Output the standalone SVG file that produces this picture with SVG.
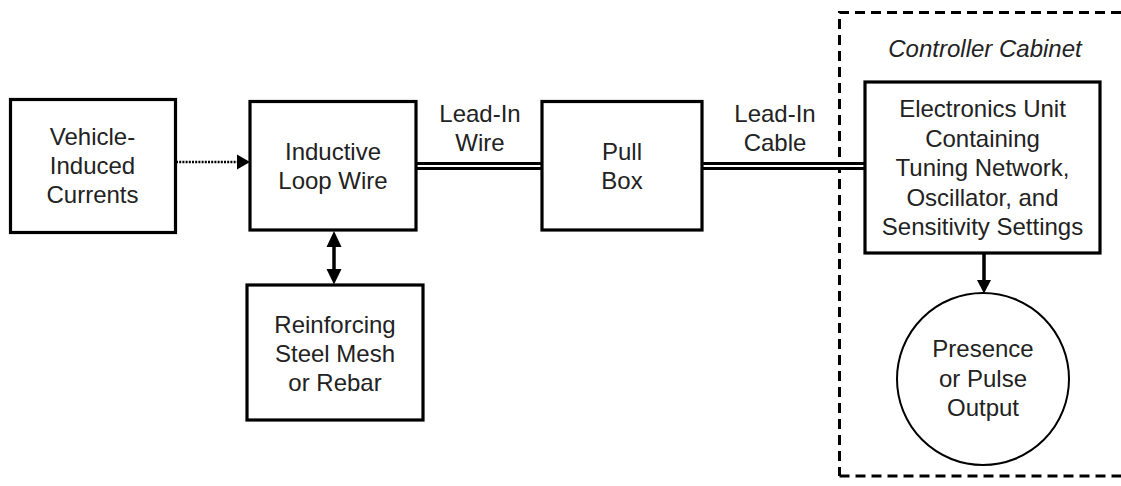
<svg xmlns="http://www.w3.org/2000/svg" width="1121" height="486" viewBox="0 0 1121 486">
<style>
  .box { fill: #fff; stroke: #000; stroke-width: 3.2; }
  .circ { fill: #fff; stroke: #000; stroke-width: 2; }
  text { font-family: "Liberation Sans", Arial, sans-serif; font-size: 24px; fill: #222; text-anchor: middle; }
  .it { font-style: italic; }
  .dbl-o { stroke: #000; stroke-width: 8; fill: none; }
  .dbl-i { stroke: #fff; stroke-width: 2; fill: none; }
  .solid { stroke: #000; stroke-width: 3.5; fill: none; }
  .dotted { stroke: #000; stroke-width: 2.5; stroke-dasharray: 2 1.2; fill: none; }
  .dash { stroke: #000; stroke-width: 3; stroke-dasharray: 10 6; fill: none; }
  .head { fill: #000; }
</style>
<rect width="1121" height="486" fill="#fff"/>

<g id="cabinet">
  <path class="dash" d="M1121 12.5 H839.5 V476"/>
  <path class="dash" d="M839.5 476 H1121"/>
  <text class="it" x="985" y="57">Controller Cabinet</text>
</g>

<g id="connectors">
  <line class="dotted" x1="176" y1="162" x2="238" y2="162"/>
  <polygon class="head" points="237,154.5 250,162 237,169.5"/>
  <line class="dbl-o" x1="416" y1="166" x2="542" y2="166"/>
  <line class="dbl-i" x1="414" y1="166" x2="544" y2="166"/>
  <line class="dbl-o" x1="702" y1="166" x2="865" y2="166"/>
  <line class="dbl-i" x1="700" y1="166" x2="867" y2="166"/>
  <line class="solid" x1="334" y1="245" x2="334" y2="271"/>
  <polygon class="head" points="334,231 341.5,247 326.5,247"/>
  <polygon class="head" points="334,284.5 341.5,269 326.5,269"/>
  <line class="solid" x1="984" y1="253" x2="984" y2="282"/>
  <polygon class="head" points="984,293.5 991,280 977,280"/>
</g>

<g id="vehicle">
  <rect class="box" x="10.5" y="99.5" width="165" height="133"/>
  <text x="92.5" y="145">Vehicle-</text>
  <text x="92.5" y="174">Induced</text>
  <text x="92.5" y="203">Currents</text>
</g>

<g id="loop">
  <rect class="box" x="250" y="101.5" width="166" height="128.5"/>
  <text x="333" y="160">Inductive</text>
  <text x="333" y="189">Loop Wire</text>
</g>

<g id="leadin-wire-label">
  <text x="480" y="122">Lead-In</text>
  <text x="480" y="151">Wire</text>
</g>

<g id="pullbox">
  <rect class="box" x="542" y="101.5" width="160" height="128.5"/>
  <text x="622" y="160">Pull</text>
  <text x="622" y="189">Box</text>
</g>

<g id="leadin-cable-label">
  <text x="775" y="122">Lead-In</text>
  <text x="775" y="151">Cable</text>
</g>

<g id="reinforcing">
  <rect class="box" x="247" y="285" width="176" height="135"/>
  <text x="335" y="333">Reinforcing</text>
  <text x="335" y="362">Steel Mesh</text>
  <text x="335" y="391">or Rebar</text>
</g>

<g id="electronics">
  <rect class="box" x="865" y="82" width="235" height="171"/>
  <text x="982.5" y="117">Electronics Unit</text>
  <text x="982.5" y="146.5">Containing</text>
  <text x="982.5" y="176">Tuning Network,</text>
  <text x="982.5" y="205.5">Oscillator, and</text>
  <text x="982.5" y="235">Sensitivity Settings</text>
</g>

<g id="output">
  <circle class="circ" cx="983" cy="379" r="86"/>
  <text x="983" y="357">Presence</text>
  <text x="983" y="386.5">or Pulse</text>
  <text x="983" y="416">Output</text>
</g>
</svg>
